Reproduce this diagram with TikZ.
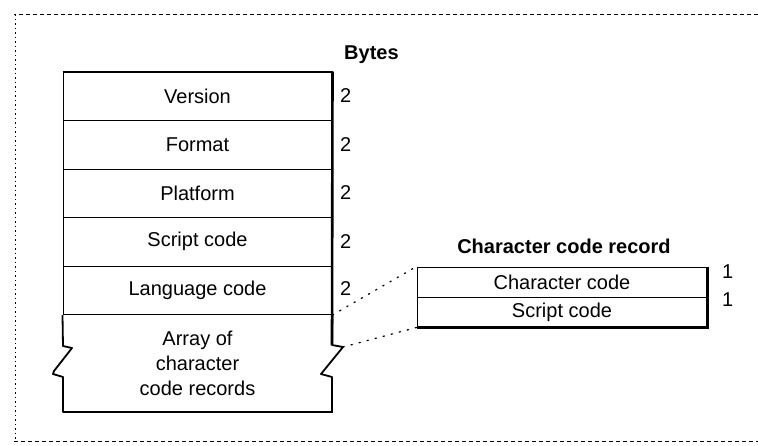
\documentclass[tikz,border=0pt]{standalone}
\usepackage{fontspec}
\setmainfont{Liberation Sans}
\usepackage{tikz}
\usetikzlibrary{calc}

\tikzset{
  field/.style={draw, line width=1pt, minimum width=269pt, minimum height=48.5pt, inner sep=0pt, font=\fontsize{20}{25}\selectfont},
  recfield/.style={draw, line width=1pt, minimum width=290pt, minimum height=30pt, inner sep=0pt, font=\fontsize{20}{25}\selectfont},
  count/.style={anchor=west, inner sep=0pt, font=\fontsize{20}{25}\selectfont},
  heading/.style={inner sep=0pt, font=\fontsize{20}{25}\selectfont\bfseries},
  frameline/.style={line width=0.8pt, dash pattern=on 4pt off 3pt},
  link/.style={line width=1.3pt, dash pattern=on 1.3pt off 7pt, line cap=round},
  shadow/.style={line width=2.6pt},
}

\begin{document}
\begin{tikzpicture}[x=1pt, y=-1pt]
\useasboundingbox (0,0) rectangle (758,445);
% frame round the figure
\draw[frameline] (758,14) -- (14,14);
\draw[line width=1pt, dash pattern=on 1.5pt off 3pt] (15,14) -- (15,441);
\draw[frameline] (14,441) -- (758,441);

% the table fields
\node[heading, anchor=west] (bytes) at (344,55) {Bytes};
\node[field] (version) at (197.5,96.25) {Version};
\node[field] (format) at (197.5,144.75) {Format};
\node[field] (platform) at (197.5,193.25) {Platform};
\node[field] (script) at (197.5,241.75) {Script code};
\node[field] (language) at (197.5,290.25) {Language code};
\node[align=center, inner sep=0pt, font=\fontsize{20}{25}\selectfont] (array) at (197.5,363) {Array of\\character\\code records};
\draw[line width=1.8pt] (version.north west) -- (version.north east);
\draw[line width=1.8pt, line join=round]
  (language.south west) -- (63,346) -- (72,348) -- (54,371) -- (53,374) -- (63,377)
  -- (63,412) -- (332,412) -- (332,377) -- (321,374) -- (343,347) -- (332,345) -- (language.south east);
\draw[shadow] (version.north east) -- (332,345);
\draw[shadow] (332,377) -- (332,412) -- (63,412);

% byte counts
\node[count] (nversion) at (340,96) {2};
\node[count] (nformat) at (340,144.5) {2};
\node[count] (nplatform) at (340,193) {2};
\node[count] (nscript) at (340,241.5) {2};
\node[count] (nlanguage) at (340,289) {2};

% character code record
\node[heading] (rectitle) at (564,246) {Character code record};
\node[recfield] (charcode) at (562,282) {Character code};
\node[recfield] (reccode) at (562,312) {Script code};
\draw[shadow] (charcode.north east) -- (reccode.south east) -- (reccode.south west);
\node[count] (ncharcode) at (722,272) {1};
\node[count] (nreccode) at (722,300) {1};

% dotted links
\draw[link] (language.south east) -- (charcode.north west);
\draw[link] (343,347) -- (reccode.south west);
\end{tikzpicture}
\end{document}
